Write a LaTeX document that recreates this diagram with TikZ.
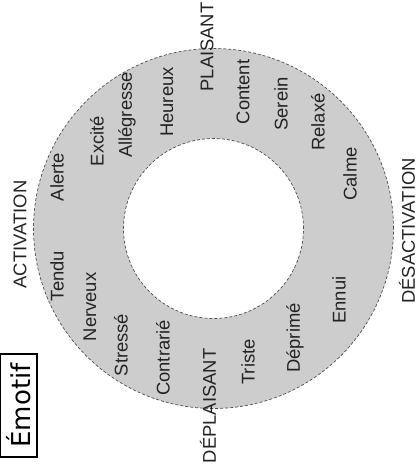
\documentclass[tikz,border=0pt]{standalone}
\usepackage{fontspec}
\setmainfont{Liberation Sans}
\newfontfamily\boxfont{DejaVu Sans}
\definecolor{RingGray}{RGB}{205,205,205}
\definecolor{EdgeGray}{RGB}{80,80,80}
\definecolor{TextGray}{RGB}{35,35,35}
\usepackage{tikz}

\begin{document}
\begin{tikzpicture}[
  x=1pt, y=1pt,
  word/.style={rotate=90, inner sep=0pt, text=TextGray,
               font=\fontsize{18.4}{22}\selectfont},
  axis/.style={word},
  ringedge/.style={draw=EdgeGray, line width=0.7pt, dash pattern=on 3pt off 2pt},
  titlebox/.style={draw, line width=1.1pt, rotate=90, inner sep=0pt,
                   minimum width=103pt, minimum height=37pt,
                   font=\boxfont\fontsize{26}{30}\selectfont},
]
  \useasboundingbox (-213.5,-243.5) rectangle (205.5,228.5);

  % ring
  \fill[RingGray, even odd rule] (0,0) circle (180pt) (0,0) circle (90pt);
  \draw[ringedge] (0,0) circle (180pt);
  \draw[ringedge] (0,0) circle (90pt);

  % axes
  \node[axis] (plais) at (-6.5,181.5) {PLAISANT};
  \node[axis] (deplais) at (-5.5,-177.5) {DÉPLAISANT};
  \node[axis] (activ) at (-193.5,-6) {ACTIVATION};
  \node[axis] (desactiv) at (193.5,-2.5) {DÉSACTIVATION};

  % emotions
  \node[word] (alerte) at (-156.5,51.5) {Alerte};
  \node[word] (excite) at (-116.5,87.5) {Excité};
  \node[word] (allegr) at (-86.5,113.5) {Allégresse};
  \node[word] (heureux) at (-46.5,126.5) {Heureux};
  \node[word] (content) at (29.5,136.5) {Content};
  \node[word] (serein) at (67.5,124.5) {Serein};
  \node[word] (relaxe) at (104.5,106.5) {Relaxé};
  \node[word] (calme) at (136.5,54.5) {Calme};
  \node[word] (ennui) at (125.5,-71.5) {Ennui};
  \node[word] (deprime) at (81.5,-109.5) {Déprimé};
  \node[word] (triste) at (34.5,-133.5) {Triste};
  \node[word] (contrarie) at (-50.5,-129.5) {Contrarié};
  \node[word] (stresse) at (-92.5,-116.5) {Stressé};
  \node[word] (nerveux) at (-123.5,-78.5) {Nerveux};
  \node[word] (tendu) at (-156.5,-47.5) {Tendu};

  % title
  \node[titlebox] (emotif) at (-195,-177) {Émotif};
\end{tikzpicture}
\end{document}
